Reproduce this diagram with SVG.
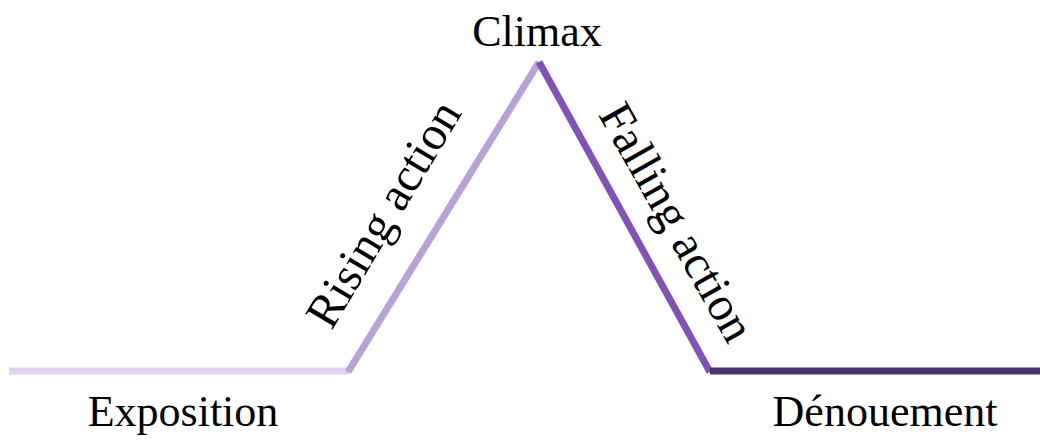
<svg xmlns="http://www.w3.org/2000/svg" width="1040" height="441" viewBox="0 0 1040 441">
<style>
.lbl{font-family:"Liberation Serif","Times New Roman",serif;font-size:44px;fill:#000;text-anchor:middle}
.rot{font-size:48px}
.seg{fill:none;stroke-width:7;stroke-linecap:butt}
</style>
<rect width="1040" height="441" fill="#fff"/>
<g id="connectors">
<line class="seg" x1="9" y1="371" x2="349" y2="371" stroke="#dfd3ee"/>
<line class="seg" x1="348" y1="372" x2="539" y2="62" stroke="#b9a2d8"/>
<line class="seg" x1="539" y1="62" x2="710" y2="372" stroke="#8153b9"/>
<line class="seg" x1="710" y1="371" x2="1040" y2="371" stroke="#4e2f70"/>
</g>
<g id="climax"><text class="lbl" x="537" y="46">Climax</text></g>
<g id="exposition"><text class="lbl" x="183" y="426">Exposition</text></g>
<g id="rising"><text class="lbl rot" transform="translate(397,222) rotate(-59)">Rising action</text></g>
<g id="falling"><text class="lbl rot" transform="translate(663,230) rotate(60.5)">Falling action</text></g>
<g id="denouement"><text class="lbl" x="885" y="426">Dénouement</text></g>
</svg>
